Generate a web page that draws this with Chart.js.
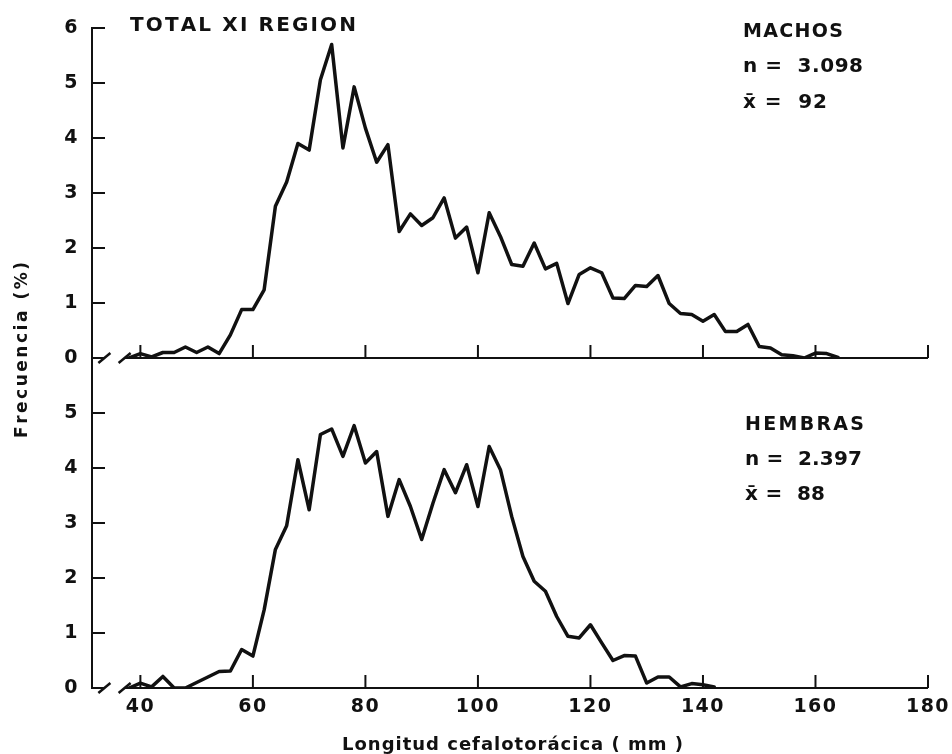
<!DOCTYPE html>
<html lang="es">
<head>
<meta charset="utf-8">
<title>Frecuencia de longitud cefalotorácica – Total XI Región</title>
<script src="https://cdn.jsdelivr.net/npm/chart.js@4.4.1/dist/chart.umd.min.js"></script>
<style>
  html, body { margin: 0; padding: 0; background: #fff; }
  #wrap { width: 952px; height: 754px; position: relative; }
  canvas { display: block; }
</style>
</head>
<body>
<div id="wrap"><canvas id="chart" width="952" height="754"></canvas></div>
<script>
// Clases de longitud cefalotorácica (mm), intervalos de 2 mm
const machosLengthMm = [38, 40, 42, 44, 46, 48, 50, 52, 54, 56, 58, 60, 62, 64, 66, 68, 70, 72, 74, 76,
  78, 80, 82, 84, 86, 88, 90, 92, 94, 96, 98, 100, 102, 104, 106, 108, 110, 112, 114, 116,
  118, 120, 122, 124, 126, 128, 130, 132, 134, 136, 138, 140, 142, 144, 146, 148, 150, 152, 154, 156,
  158, 160, 162, 164];
// Frecuencia (%) de machos por clase
const machosPct = [0.00, 0.08, 0.02, 0.10, 0.10, 0.20, 0.10, 0.20, 0.08, 0.42, 0.88, 0.88, 1.24, 2.76, 3.20, 3.90, 3.78, 5.06, 5.70, 3.82,
  4.93, 4.18, 3.56, 3.88, 2.30, 2.62, 2.41, 2.55, 2.91, 2.18, 2.38, 1.55, 2.64, 2.21, 1.70, 1.67, 2.09, 1.62, 1.72, 0.99,
  1.52, 1.64, 1.55, 1.09, 1.08, 1.32, 1.30, 1.50, 0.99, 0.81, 0.79, 0.67, 0.79, 0.48, 0.48, 0.61, 0.21, 0.18, 0.06, 0.04,
  0.00, 0.09, 0.08, 0.01];

const hembrasLengthMm = [38, 40, 42, 44, 46, 48, 50, 52, 54, 56, 58, 60, 62, 64, 66, 68, 70, 72, 74, 76,
  78, 80, 82, 84, 86, 88, 90, 92, 94, 96, 98, 100, 102, 104, 106, 108, 110, 112, 114, 116,
  118, 120, 122, 124, 126, 128, 130, 132, 134, 136, 138, 140, 142];
// Frecuencia (%) de hembras por clase
const hembrasPct = [0.00, 0.09, 0.02, 0.21, 0.00, 0.00, 0.10, 0.20, 0.30, 0.31, 0.70, 0.58, 1.42, 2.52, 2.95, 4.15, 3.24, 4.61, 4.71, 4.21,
  4.77, 4.09, 4.30, 3.12, 3.79, 3.30, 2.70, 3.36, 3.97, 3.55, 4.06, 3.30, 4.39, 3.97, 3.12, 2.39, 1.94, 1.76, 1.30, 0.94,
  0.91, 1.15, 0.82, 0.50, 0.59, 0.58, 0.09, 0.20, 0.20, 0.02, 0.08, 0.06, 0.02];

// Marcas de los ejes
const lengthTicks = [40, 60, 80, 100, 120, 140, 160, 180];
const machosPctTicks = [0, 1, 2, 3, 4, 5, 6];
const hembrasPctTicks = [0, 1, 2, 3, 4, 5];

// Textos
const chartTitle = 'TOTAL XI REGION';
const machosInfo = ['MACHOS', 'n =  3.098', 'x\u0304 =  92'];
const hembrasInfo = ['HEMBRAS', 'n =  2.397', 'x\u0304 =  88'];
const xTitle = 'Longitud cefalotorácica ( mm )';
const yTitle = 'Frecuencia (%)';

const INK = '#111111';
const FAMILY = "'DejaVu Sans', 'Liberation Sans', sans-serif";
const AXIS_BREAK_MM = [33.6, 37.2];   // corte del eje x cerca del origen

Chart.defaults.font.family = FAMILY;
Chart.defaults.font.weight = 'bold';
Chart.defaults.color = INK;

// Texto con espaciado entre letras ajustado a un ancho dado
function drawSpaced(ctx, text, x, baseline, font, width) {
  ctx.font = font;
  ctx.textAlign = 'left';
  ctx.textBaseline = 'alphabetic';
  const glyphs = text.match(/.[\u0300-\u036f]*/gu);
  const widths = glyphs.map(g => ctx.measureText(g).width);
  const total = widths.reduce((a, b) => a + b, 0);
  const gap = glyphs.length > 1 ? (width - total) / (glyphs.length - 1) : 0;
  let cx = x;
  glyphs.forEach((g, i) => {
    ctx.fillText(g, cx, baseline);
    cx += widths[i] + gap;
  });
}

function seg(ctx, x1, y1, x2, y2) {
  ctx.beginPath();
  ctx.moveTo(x1, y1);
  ctx.lineTo(x2, y2);
  ctx.stroke();
}

// Ejes dibujados a mano: línea base con corte, marcas hacia dentro y rótulos
const panelFrame = {
  id: 'panelFrame',
  beforeDraw(chart) {
    chart.ctx.letterSpacing = '1.5px';
  },
  afterDraw(chart) {
    const { ctx, chartArea, scales } = chart;
    const xs = scales.x;
    ctx.save();
    ctx.letterSpacing = '0px';
    ctx.strokeStyle = INK;
    ctx.fillStyle = INK;
    ctx.lineCap = 'butt';

    const panels = [[scales.yTop, machosPctTicks], [scales.yBot, hembrasPctTicks]];
    panels.forEach(([ys, ticks]) => {
      const y0 = ys.getPixelForValue(0);
      const bA = xs.getPixelForValue(AXIS_BREAK_MM[0]);
      const bB = xs.getPixelForValue(AXIS_BREAK_MM[1]);
      ctx.lineWidth = 2;
      seg(ctx, chartArea.left, y0, bA, y0);
      seg(ctx, bB, y0, chartArea.right, y0);
      ctx.lineWidth = 2.5;
      seg(ctx, bA - 6, y0 + 5, bA + 6, y0 - 5);
      seg(ctx, bB - 6, y0 + 5, bB + 6, y0 - 5);
      ctx.lineWidth = 2;
      lengthTicks.forEach(v => {
        const px = xs.getPixelForValue(v);
        seg(ctx, px, y0, px, y0 - 13);
      });
      ticks.forEach(v => {
        const py = ys.getPixelForValue(v);
        seg(ctx, chartArea.left, py, chartArea.left + 13, py);
      });
    });

    drawSpaced(ctx, chartTitle, 130, 31, `bold 20px ${FAMILY}`, 226);

    drawSpaced(ctx, machosInfo[0], 743, 37, `bold 19px ${FAMILY}`, 100);
    drawSpaced(ctx, machosInfo[1], 743, 72, `bold 20px ${FAMILY}`, 120);
    drawSpaced(ctx, machosInfo[2], 743, 108, `bold 20px ${FAMILY}`, 84);

    drawSpaced(ctx, hembrasInfo[0], 745, 430, `bold 19px ${FAMILY}`, 119);
    drawSpaced(ctx, hembrasInfo[1], 745, 465, `bold 20px ${FAMILY}`, 117);
    drawSpaced(ctx, hembrasInfo[2], 745, 500, `bold 20px ${FAMILY}`, 80);

    drawSpaced(ctx, xTitle, 342, 750, `bold 18px ${FAMILY}`, 341);

    ctx.save();
    ctx.translate(27, 438);
    ctx.rotate(-Math.PI / 2);
    drawSpaced(ctx, yTitle, 0, 0, `bold 17px ${FAMILY}`, 176);
    ctx.restore();

    ctx.restore();
  }
};

const lineStyle = {
  borderColor: INK,
  borderWidth: 3.5,
  pointRadius: 0,
  tension: 0,
  fill: false,
  borderJoinStyle: 'round',
  borderCapStyle: 'round'
};

const yCommon = {
  type: 'linear',
  position: 'left',
  stack: 'panels',
  stackWeight: 1,
  min: 0,
  max: 6,
  grid: { display: false, drawTicks: false },
  border: { display: true, color: INK, width: 2 },
  ticks: { font: { size: 19, weight: 'bold' }, color: INK, padding: 13 },
  afterFit(s) { s.width = 92; s.paddingTop = 0; s.paddingBottom = 0; }
};

new Chart(document.getElementById('chart'), {
  type: 'line',
  data: {
    datasets: [
      Object.assign({
        label: 'Machos',
        yAxisID: 'yTop',
        data: machosLengthMm.map((mm, i) => ({ x: mm, y: machosPct[i] }))
      }, lineStyle),
      Object.assign({
        label: 'Hembras',
        yAxisID: 'yBot',
        data: hembrasLengthMm.map((mm, i) => ({ x: mm, y: hembrasPct[i] }))
      }, lineStyle)
    ]
  },
  options: {
    responsive: false,
    animation: false,
    layout: { padding: { left: 0, right: 24, top: 28, bottom: 0 } },
    plugins: { legend: { display: false }, tooltip: { enabled: false } },
    scales: {
      x: {
        type: 'linear',
        position: 'bottom',
        min: 31.4,
        max: 180,
        grid: { display: false, drawTicks: false },
        border: { display: false },
        ticks: { font: { size: 19, weight: 'bold' }, color: INK, padding: 8, maxRotation: 0, autoSkip: false },
        afterBuildTicks(s) { s.ticks = lengthTicks.map(v => ({ value: v })); },
        afterFit(s) { s.height = 66; s.paddingLeft = 0; s.paddingRight = 0; }
      },
      yTop: Object.assign({}, yCommon, {
        weight: 2,
        afterBuildTicks(s) { s.ticks = machosPctTicks.map(v => ({ value: v })); }
      }),
      yBot: Object.assign({}, yCommon, {
        weight: 1,
        afterBuildTicks(s) { s.ticks = hembrasPctTicks.map(v => ({ value: v })); }
      })
    }
  },
  plugins: [panelFrame]
});
</script>
</body>
</html>
